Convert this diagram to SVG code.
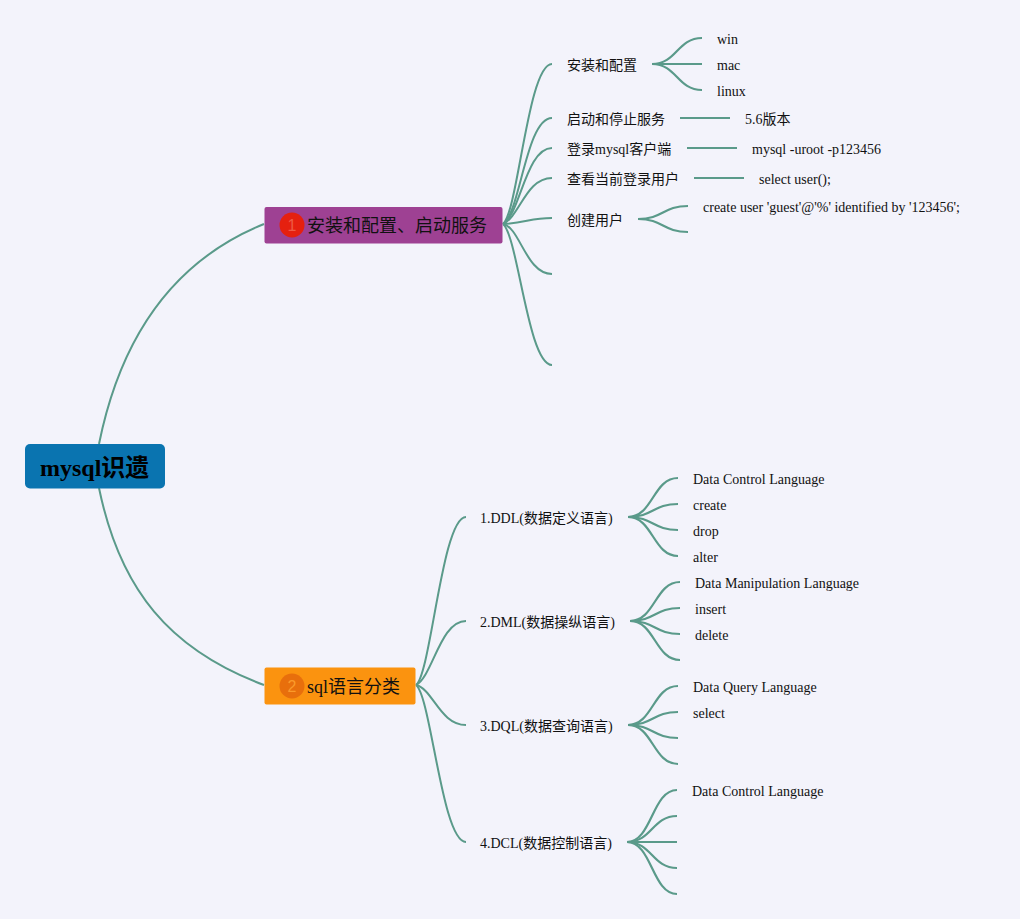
<svg xmlns="http://www.w3.org/2000/svg" width="1020" height="919" viewBox="0 0 1020 919">
<style>
text{font-family:"Liberation Serif","Noto Sans CJK SC",serif;font-size:14px;fill:#111}
.big{font-size:18px}
.root{font-size:24px;font-weight:bold;fill:#000}
.badge{font-family:"Liberation Sans",sans-serif;font-size:16px;text-anchor:middle}
.c path{fill:none;stroke:#5a9a8a;stroke-width:2.2}
.c .m path{stroke-width:2}
</style>
<rect width="1020" height="919" fill="#f3f3fb"/>
<g id="connectors" class="c">
<g class="m">
<path d="M99,444C120,340 170,262 264,224"/>
<path d="M99,488C120,590 170,650 264,685"/>
<path d="M503,224C518,212 528,64 552,64"/>
<path d="M503,224C520,214 526,118 552,118"/>
<path d="M503,224C520,215 526,148 552,148"/>
<path d="M503,224C520,216 526,178 552,178"/>
<path d="M503,224C526,223 530,218 552,218"/>
<path d="M503,224C520,227 526,274 552,274"/>
<path d="M503,224C518,236 528,365 552,365"/>
<path d="M416,685C431,674 442,517 466,517"/>
<path d="M416,685C433,676 440,621 466,621"/>
<path d="M416,685C433,689 440,725 466,725"/>
<path d="M416,685C431,696 442,842 466,842"/>
</g>
<path d="M652,64C677,64 677,38 702,38"/>
<path d="M652,64H702"/>
<path d="M652,64C677,64 677,90 702,90"/>
<path d="M680,118H730"/>
<path d="M687,148H737"/>
<path d="M694,178H744"/>
<path d="M638,219C663,219 663,206 688,206"/>
<path d="M638,219C663,219 663,232 688,232"/>
<path d="M628,517C653,517 653,478 678,478"/>
<path d="M628,517C653,517 653,504 678,504"/>
<path d="M628,517C653,517 653,530 678,530"/>
<path d="M628,517C653,517 653,556 678,556"/>
<path d="M630,621C655,621 655,582 680,582"/>
<path d="M630,621C655,621 655,608 680,608"/>
<path d="M630,621C655,621 655,634 680,634"/>
<path d="M630,621C655,621 655,660 680,660"/>
<path d="M628,725C653,725 653,686 678,686"/>
<path d="M628,725C653,725 653,712 678,712"/>
<path d="M628,725C653,725 653,738 678,738"/>
<path d="M628,725C653,725 653,764 678,764"/>
<path d="M627,842C652,842 652,790 677,790"/>
<path d="M627,842C652,842 652,816 677,816"/>
<path d="M627,842H677"/>
<path d="M627,842C652,842 652,868 677,868"/>
<path d="M627,842C652,842 652,894 677,894"/>
</g>
<g id="root"><rect x="25" y="444" width="140" height="44.500" rx="5" fill="#0a74b0"/><text class="root" x="40" y="476">mysql识遗</text></g>
<g id="n1"><rect x="264.500" y="207" width="238" height="36.500" rx="2" fill="#9e4193"/><circle cx="292" cy="225" r="12.500" fill="#e5200f"/><text class="badge" x="292" y="231" style="fill:#ee5a45">1</text><text class="big" x="307" y="232">安装和配置、启动服务</text></g>
<g id="n2"><rect x="264.500" y="667.500" width="151" height="37" rx="2" fill="#fb930f"/><circle cx="292" cy="686" r="12.500" fill="#e86f0c"/><text class="badge" x="292" y="692" style="fill:#fb9a2a">2</text><text class="big" x="307" y="693">sql语言分类</text></g>
<g id="n1-1"><text x="567" y="70">安装和配置</text></g>
<g id="n1-1-1"><text x="717" y="44">win</text></g>
<g id="n1-1-2"><text x="717" y="70">mac</text></g>
<g id="n1-1-3"><text x="717" y="96">linux</text></g>
<g id="n1-2"><text x="567" y="124">启动和停止服务</text></g>
<g id="n1-2-1"><text x="745" y="124">5.6版本</text></g>
<g id="n1-3"><text x="567" y="154">登录mysql客户端</text></g>
<g id="n1-3-1"><text x="752" y="154">mysql -uroot -p123456</text></g>
<g id="n1-4"><text x="567" y="184">查看当前登录用户</text></g>
<g id="n1-4-1"><text x="759" y="184">select user();</text></g>
<g id="n1-5"><text x="567" y="225">创建用户</text></g>
<g id="n1-5-1"><text x="703" y="212">create user 'guest'@'%' identified by '123456';</text></g>
<g id="n2-1"><text x="480" y="523">1.DDL(数据定义语言)</text></g>
<g id="n2-1-1"><text x="693" y="484">Data Control Language</text></g>
<g id="n2-1-2"><text x="693" y="510">create</text></g>
<g id="n2-1-3"><text x="693" y="536">drop</text></g>
<g id="n2-1-4"><text x="693" y="562">alter</text></g>
<g id="n2-2"><text x="480" y="627">2.DML(数据操纵语言)</text></g>
<g id="n2-2-1"><text x="695" y="588">Data Manipulation Language</text></g>
<g id="n2-2-2"><text x="695" y="614">insert</text></g>
<g id="n2-2-3"><text x="695" y="640">delete</text></g>
<g id="n2-3"><text x="480" y="731">3.DQL(数据查询语言)</text></g>
<g id="n2-3-1"><text x="693" y="692">Data Query Language</text></g>
<g id="n2-3-2"><text x="693" y="718">select</text></g>
<g id="n2-4"><text x="480" y="848">4.DCL(数据控制语言)</text></g>
<g id="n2-4-1"><text x="692" y="796">Data Control Language</text></g>
</svg>
